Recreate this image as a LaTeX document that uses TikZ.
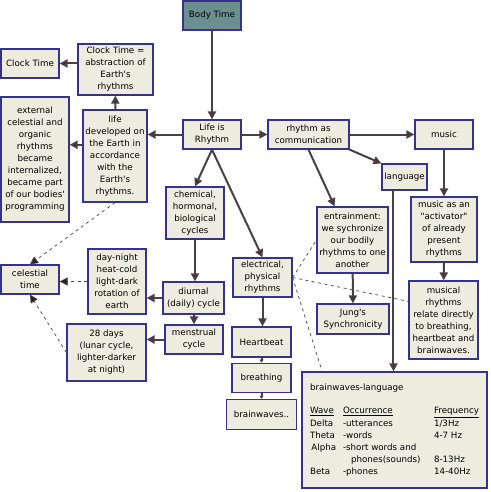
\documentclass[tikz,border=0pt]{standalone}
\usepackage{fontspec}
\newfontfamily\genevafont{DejaVu Sans}
\usetikzlibrary{arrows.meta,positioning}
\definecolor{bt-paper}{HTML}{EEECDF}
\definecolor{bt-edge}{HTML}{35338E}
\definecolor{bt-root}{HTML}{6B8F8F}
\definecolor{bt-line}{HTML}{4A3F45}
\definecolor{bt-tip}{HTML}{2A2126}

\tikzset{
  box/.style={draw=bt-edge, fill=bt-paper, line width=1.2pt, align=center,
    font=\genevafont\fontsize{8.7}{12}\selectfont, inner sep=1pt},
  boxsize/.style 2 args={minimum width=#1, minimum height=#2},
  link/.style={draw=bt-line, line width=2pt,
    -{Triangle[length=8pt,width=8pt,fill=bt-tip]}},
  hint/.style={draw=bt-line, line width=0.7pt, dash pattern=on 3pt off 3.5pt},
}

\begin{document}
\begin{tikzpicture}[x=1pt, y=-1pt]
    \useasboundingbox (0,0) rectangle (490,492);
    % top of the map
    \node[box, fill=bt-root, boxsize={58}{29}] (BT) at (212,15.5) {Body Time};
    \node[box, boxsize={58}{29}] (LR) at (212,134.5) {Life is\\Rhythm};
    \node[box, boxsize={81}{29}] (RC) at (308.5,134.5) {rhythm as\\communication};
    \node[box, boxsize={58}{29}] (MU) at (444,134.5) {music};
    \node[box, boxsize={45}{26}] (LA) at (404.5,177) {language};
    % left branch
    \node[box, boxsize={64}{92}] (LD) at (115,156) {life\\developed on\\the Earth in\\accordance\\with the\\Earth's\\rhythms.};
    \node[box, boxsize={75}{51}] (CTE) at (115.5,69.5) {Clock Time =\\abstraction of\\Earth's\\rhythms};
    \node[box, boxsize={58}{29}] (CT) at (30,63.5) {Clock Time};
    \node[box, boxsize={68}{125}] (EXT) at (35,159.5) {external\\celestial and\\organic\\rhythms\\became\\internalized,\\became part\\of our bodies'\\programming};
    % cycles
    \node[box, boxsize={58}{52}] (CH) at (195,213) {chemical,\\hormonal,\\biological\\cycles};
    \node[box, boxsize={61}{32}] (DI) at (193.5,298) {diurnal\\(daily) cycle};
    \node[box, boxsize={58}{29}] (ME) at (194,339.5) {menstrual\\cycle};
    \node[box, boxsize={58}{65}] (DN) at (117,281.5) {day-night\\heat-cold\\light-dark\\rotation of\\earth};
    \node[box, boxsize={79}{57}] (D28) at (106.5,352.5) {28 days\\(lunar cycle,\\lighter-darker\\at night)};
    \node[box, boxsize={58}{29}] (CEL) at (30,279.5) {celestial\\time};
    % body rhythms
    \node[box, boxsize={59}{39}] (EL) at (262.5,277.5) {electrical,\\physical\\rhythms};
    \node[box, boxsize={59}{30}] (HB) at (261.5,342) {Heartbeat};
    \node[box, boxsize={59}{29}, below=5pt of HB] (BR) {breathing};
    \node[box, boxsize={70}{30}, below=6pt of BR] (BW) {brainwaves..};
    % communication
    \node[box, boxsize={71}{66}] (EN) at (352.5,240) {entrainment:\\we sychronize\\our bodily\\rhythms to one\\another};
    \node[box, boxsize={72}{30}] (JS) at (353,319) {Jung's\\Synchronicity};
    \node[box, boxsize={66}{65}] (MA) at (444,229.5) {music as an\\"activator"\\of already\\present\\rhythms};
    \node[box, boxsize={69}{78}] (MR) at (443.5,320) {musical\\rhythms\\relate directly\\to breathing,\\heartbeat and\\brainwaves.};
    \node[box, boxsize={185}{116}, align=left, inner xsep=4pt] (BWL) at (394.5,430) {%
      \begin{tabular}{@{}p{33pt}@{}p{91pt}@{}l@{}}
        \multicolumn{3}{@{}l}{brainwaves-language}\\[11pt]
        \underline{Wave} & \underline{Occurrence} & \underline{Frequency}\\
        Delta & -utterances & 1/3Hz\\
        Theta & -words & 4-7 Hz\\
        \,Alpha & -short words and & \\
         & \hspace{8pt}phones(sounds) & 8-13Hz\\
        Beta & -phones & 14-40Hz
      \end{tabular}};

    \draw[link] (BT) -- (LR);
    \draw[link] (LR.west) -- (LR.west -| LD.east);
    \draw[link] (LD) -- (CTE);
    \draw[link] (CT.east -| CTE.west) -- (CT.east);
    \draw[link] (LD.161) -- (LD.161 -| EXT.east);
    \draw[link] (LR) -- (RC);
    \draw[link] (RC) -- (MU);
    \draw[link] (RC.south east) -- (LA.north west);
    \draw[link] (RC.south) -- (EN.118);
    \draw[link] (MU) -- (MA);
    \draw[link] (MA) -- (MR);
    \draw[link] (LA.231) -- (LA.231 |- BWL.north);
    \draw[link] (EN) -- (JS);
    \draw[link] (LR.south) -- (CH.north);
    \draw[link] (LR.south) -- (EL.north);
    \draw[link] (CH.south) -- (CH.south |- DI.north);
    \draw[link] (DI.west) -- (DI.west -| DN.east);
    \draw[link] (ME.north |- DI.south) -- (ME.north);
    \draw[link] (ME.west) -- (ME.west -| D28.east);
    \draw[link] (EL.south) -- (EL.south |- HB.north);
    \draw[link, -{Triangle[length=3pt,width=4pt]}] (HB.south) -- (BR.north);
    \draw[link, -{Triangle[length=3pt,width=4pt]}] (BR.south) -- (BW.north);
    % dashed hints
    \draw[hint, -{Triangle[length=8pt,width=8pt,fill=bt-tip]}] (LD.south) -- (CEL.north);
    \draw[hint, -{Triangle[length=8pt,width=8pt,fill=bt-tip]}] (DN.west) -- (DN.west -| CEL.east);
    \draw[hint, -{Triangle[length=8pt,width=8pt,fill=bt-tip]}] (D28.west) -- (CEL.south);
    \draw[hint] (EL.east) -- (EN.west);
    \draw[hint] (EL.east) -- (MR.152);
    \draw[hint] (EL.east) -- (BWL.141);
\end{tikzpicture}
\end{document}
